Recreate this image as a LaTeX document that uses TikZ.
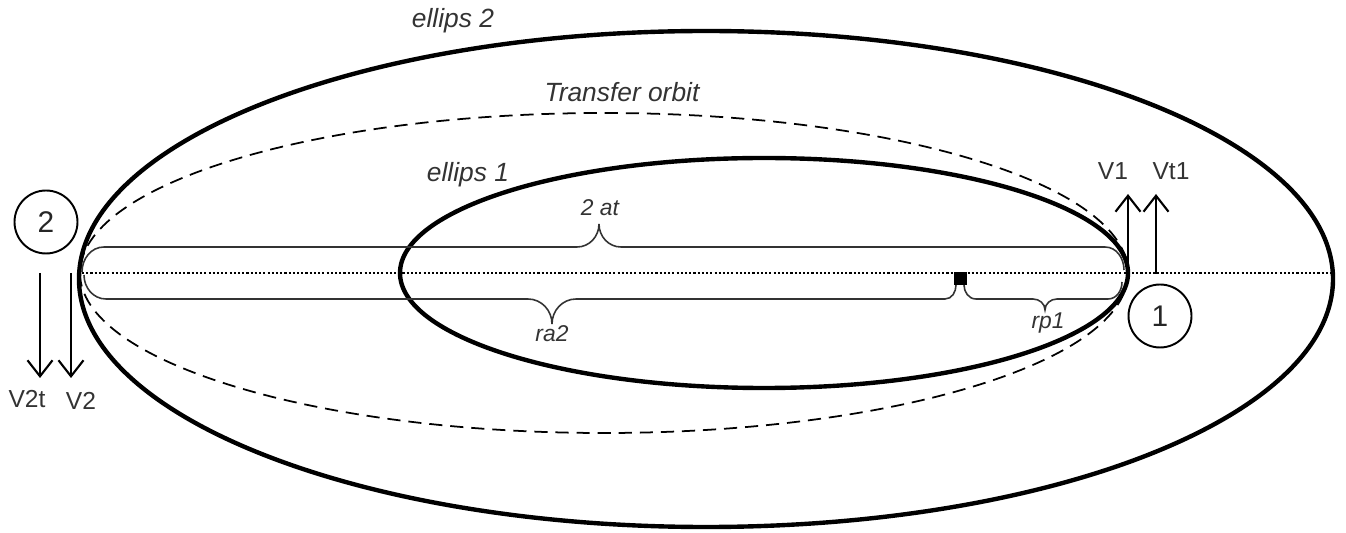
\documentclass[tikz,border=0pt]{standalone}
\usepackage{fontspec}
\setmainfont{Liberation Sans}
\usetikzlibrary{arrows.meta}
\begin{document}
\begin{tikzpicture}[x=0.02cm,y=-0.02cm,
  orbit/.style={line width=2.5pt},
  transfer/.style={line width=1pt, dash pattern=on 7.5pt off 4.5pt},
  axisline/.style={line width=0.65pt, dash pattern=on 1.2pt off 1.2pt},
  bracel/.style={line width=0.9pt, black!80},
  vec/.style={line width=1.2pt, -{Straight Barb[length=0.32cm,width=0.5cm]}},
  biglbl/.style={font=\fontsize{15}{18}\selectfont\itshape, text=black!80, anchor=base, inner sep=0pt},
  brlbl/.style={font=\fontsize{13}{16}\selectfont\itshape, text=black!80, anchor=base, inner sep=0pt},
  vlbl/.style={font=\fontsize{14}{17}\selectfont, text=black!80, anchor=base, inner sep=0pt},
  numcirc/.style={circle, draw, line width=1.1pt, minimum size=1.26cm, inner sep=0pt, font=\fontsize{17}{20}\selectfont, text=black!85}
]
\useasboundingbox (0,0) rectangle (1346,533);
% orbits
\draw[orbit] (706,279) ellipse [x radius=627, y radius=248];
\draw[transfer] (604,273) ellipse [x radius=524, y radius=160];
\draw[orbit] (764,273) ellipse [x radius=364, y radius=115];
% axis
\coordinate (axL) at (82,273);
\coordinate (axR) at (1334,273);
\draw[axisline] (axL) -- (axR);
% braces
\draw[bracel] (82,272) to[out=90,in=180] (104,247) -- (577,247) to[out=0,in=-90] (599,224)
  to[out=-90,in=180] (621,247) -- (1105,247) to[out=0,in=90] (1124,270);
\draw[bracel] (84,275) to[out=-90,in=180] (106,299) -- (528,299) to[out=0,in=90] (552,324)
  to[out=90,in=180] (576,299) -- (945,299) to[out=0,in=-90] (956,285);
\draw[bracel] (964,285) to[out=-90,in=180] (976,299) -- (1033,299) to[out=0,in=90] (1045,310)
  to[out=90,in=180] (1057,299) -- (1108,299) to[out=0,in=-90] (1122,282);
% focus
\node[fill=black, minimum size=0.26cm, inner sep=0pt] (foc) at (960,279) {};
% labels
\node[biglbl] (le2) at (453,28) {ellips 2};
\node[biglbl] (lto) at (622,102) {Transfer orbit};
\node[biglbl] (le1) at (468,182) {ellips 1};
\node[brlbl] (l2at) at (600,216) {2 at};
\node[brlbl] (lra2) at (552,342) {ra2};
\node[brlbl] (lrp1) at (1048,329) {rp1};
% circles
\node[numcirc] (c2) at (46,222) {2};
\node[numcirc] (c1) at (1160,316) {1};
% velocity arrows
\coordinate (v2ts) at (40,273);
\coordinate (v2te) at (40,378);
\coordinate (v2s) at (71,273);
\coordinate (v2e) at (71,378);
\coordinate (v1s) at (1128,273);
\coordinate (v1e) at (1128,194);
\coordinate (vt1s) at (1156,274);
\coordinate (vt1e) at (1156,194);
\draw[vec] (v2ts) -- (v2te);
\draw[vec] (v2s) -- (v2e);
\draw[vec] (v1s) -- (v1e);
\draw[vec] (vt1s) -- (vt1e);
\node[vlbl] (lv2t) at (27,408) {V2t};
\node[vlbl] (lv2) at (81,410) {V2};
\node[vlbl] (lv1) at (1113,180) {V1};
\node[vlbl] (lvt1) at (1171,180) {Vt1};
\end{tikzpicture}
\end{document}
